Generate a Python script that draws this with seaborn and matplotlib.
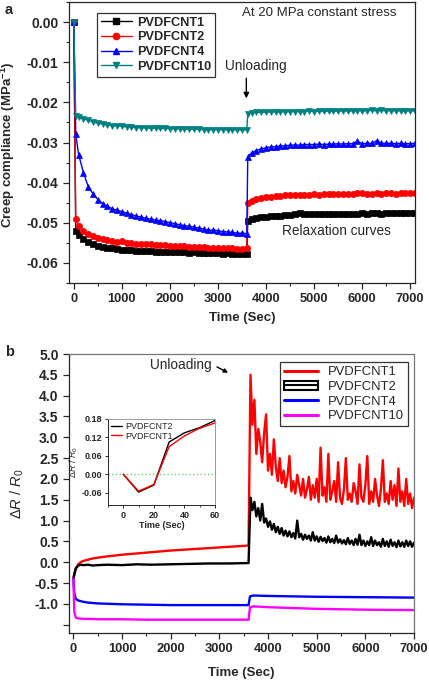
import seaborn as sns
import matplotlib.pyplot as plt
import matplotlib.patches as mpatches
from matplotlib.lines import Line2D
from matplotlib.ticker import MultipleLocator
import numpy as np
import pandas as pd

sns.set_style('ticks')
plt.rcParams['font.family'] = ['Liberation Sans', 'DejaVu Sans']
plt.rcParams['mathtext.fontset'] = 'custom'
plt.rcParams['mathtext.rm'] = 'Liberation Sans'
plt.rcParams['mathtext.it'] = 'Liberation Sans:italic'
plt.rcParams['mathtext.bf'] = 'Liberation Sans:bold'

# ---- panel a: creep compliance (MPa^-1) ----
t_load_a = [0, 40] + list(range(100, 3601, 100))
t_unload_a = [3620] + list(range(3700, 7201, 100))

cnt1_load = [0.0, -0.0520, -0.0530, -0.0540, -0.0548, -0.0553, -0.0557, -0.0560, -0.0562, -0.0564,
             -0.0566, -0.0567, -0.0568, -0.0569, -0.0570, -0.0570, -0.0571, -0.0571, -0.0572, -0.0572,
             -0.0572, -0.0573, -0.0574, -0.0573, -0.0574, -0.0575, -0.0574, -0.0575, -0.0576, -0.0575,
             -0.0576, -0.0576, -0.0577, -0.0576, -0.0577, -0.0577, -0.0578, -0.0577]
cnt1_unload = [-0.0495, -0.0490, -0.0488, -0.0486, -0.0485, -0.0484, -0.0483, -0.0482, -0.0481, -0.0480,
               -0.0479, -0.0476, -0.0479, -0.0479, -0.0478, -0.0478, -0.0478, -0.0478, -0.0477, -0.0478,
               -0.0477, -0.0477, -0.0477, -0.0477, -0.0476, -0.0477, -0.0476, -0.0476, -0.0477, -0.0476,
               -0.0476, -0.0475, -0.0476, -0.0475, -0.0476, -0.0475, -0.0476]

cnt2_load = [0.0, -0.0490, -0.0507, -0.0520, -0.0528, -0.0534, -0.0538, -0.0541, -0.0544, -0.0546,
             -0.0548, -0.0545, -0.0550, -0.0551, -0.0552, -0.0553, -0.0554, -0.0554, -0.0555, -0.0556,
             -0.0556, -0.0557, -0.0558, -0.0558, -0.0559, -0.0560, -0.0560, -0.0561, -0.0561, -0.0562,
             -0.0562, -0.0563, -0.0563, -0.0564, -0.0564, -0.0565, -0.0565, -0.0564]
cnt2_unload = [-0.0450, -0.0445, -0.0441, -0.0438, -0.0436, -0.0435, -0.0434, -0.0433, -0.0432, -0.0431,
               -0.0431, -0.0430, -0.0430, -0.0430, -0.0429, -0.0430, -0.0429, -0.0428, -0.0429, -0.0428,
               -0.0429, -0.0428, -0.0428, -0.0425, -0.0427, -0.0428, -0.0428, -0.0427, -0.0428, -0.0427,
               -0.0427, -0.0428, -0.0427, -0.0427, -0.0427, -0.0426, -0.0426]

cnt4_load = [0.0, -0.0280, -0.0330, -0.0375, -0.0410, -0.0428, -0.0442, -0.0452, -0.0459, -0.0465,
             -0.0469, -0.0472, -0.0476, -0.0480, -0.0483, -0.0486, -0.0489, -0.0491, -0.0493, -0.0495,
             -0.0497, -0.0500, -0.0502, -0.0505, -0.0507, -0.0509, -0.0511, -0.0513, -0.0515, -0.0519,
             -0.0518, -0.0520, -0.0522, -0.0523, -0.0524, -0.0526, -0.0526, -0.0527]
cnt4_unload = [-0.0335, -0.0326, -0.0320, -0.0316, -0.0313, -0.0311, -0.0310, -0.0309, -0.0308, -0.0307,
               -0.0306, -0.0307, -0.0305, -0.0305, -0.0305, -0.0304, -0.0305, -0.0304, -0.0304, -0.0303,
               -0.0304, -0.0303, -0.0303, -0.0297, -0.0303, -0.0302, -0.0302, -0.0296, -0.0302, -0.0302,
               -0.0302, -0.0303, -0.0302, -0.0303, -0.0303, -0.0302, -0.0303]

cnt10_load = [0.0, -0.0233, -0.0236, -0.0241, -0.0245, -0.0249, -0.0252, -0.0254, -0.0256, -0.0258,
              -0.0259, -0.0260, -0.0261, -0.0262, -0.0263, -0.0263, -0.0264, -0.0264, -0.0265, -0.0265,
              -0.0265, -0.0266, -0.0266, -0.0266, -0.0267, -0.0267, -0.0267, -0.0267, -0.0268, -0.0268,
              -0.0268, -0.0268, -0.0268, -0.0268, -0.0269, -0.0268, -0.0269, -0.0268]
cnt10_unload = [-0.0228, -0.0226, -0.0225, -0.0225, -0.0224, -0.0224, -0.0224, -0.0223, -0.0224, -0.0223,
                -0.0223, -0.0223, -0.0223, -0.0222, -0.0223, -0.0222, -0.0222, -0.0222, -0.0222, -0.0222,
                -0.0221, -0.0222, -0.0221, -0.0221, -0.0221, -0.0221, -0.0220, -0.0221, -0.0220, -0.0221,
                -0.0221, -0.0221, -0.0221, -0.0222, -0.0221, -0.0221, -0.0222]

# ---- panel b: resistance change ----
t_load_b = [0, 20, 50, 100, 150, 200, 300, 400, 500, 700, 1000, 1300, 1600, 2000, 2400, 2800, 3200, 3600]
r1_load = [-0.40, -0.30, -0.15, -0.05, 0.00, 0.03, 0.06, 0.09, 0.11, 0.14, 0.18, 0.21, 0.24, 0.28,
           0.31, 0.34, 0.37, 0.40]
r2_load = [-0.40, -0.28, -0.15, -0.08, -0.06, -0.07, -0.06, -0.08, -0.07, -0.06, -0.07, -0.05, -0.06,
           -0.05, -0.04, -0.03, -0.03, -0.02]
t_unload_b0 = 3640
t_unload_step = 40
r1_unload = [4.50, 3.30, 3.90, 2.60, 3.20, 2.90, 2.40, 3.10, 3.55, 2.20, 2.60, 2.10, 2.95, 2.30, 1.95,
             2.50, 1.90, 2.20, 1.80, 2.05, 2.55, 1.70, 1.95, 1.65, 2.10, 1.85, 1.60, 2.00, 1.55, 1.75,
             2.05, 1.50, 1.85, 1.55, 2.00, 1.45, 2.75, 1.60, 1.80, 1.45, 2.60, 1.50, 1.70, 1.95, 1.45,
             2.40, 1.55, 1.40, 1.75, 2.50, 1.50, 1.65, 1.45, 1.90, 1.70, 1.40, 2.35, 1.55, 1.45, 1.85,
             2.55, 1.40, 1.70, 1.45, 2.00, 1.60, 1.35, 1.75, 2.45, 1.45, 1.65, 1.40, 1.95, 1.50, 1.85,
             1.35, 2.25, 1.45, 1.70, 1.35, 2.00, 1.40, 1.65, 1.30, 1.55]
r2_unload = [1.55, 1.25, 1.45, 1.10, 1.30, 1.00, 1.40, 0.95, 1.05, 0.85, 0.98, 0.78, 0.92, 0.72, 0.85,
             0.68, 0.82, 0.64, 0.76, 0.62, 0.74, 0.60, 0.70, 0.57, 1.00, 0.60, 0.68, 0.54, 0.66, 0.56,
             0.64, 0.52, 0.72, 0.52, 0.62, 0.49, 0.61, 0.51, 0.58, 0.47, 0.62, 0.48, 0.56, 0.46, 0.64,
             0.47, 0.55, 0.45, 0.53, 0.43, 0.58, 0.44, 0.52, 0.41, 0.56, 0.42, 0.66, 0.41, 0.52, 0.39,
             0.50, 0.41, 0.60, 0.39, 0.52, 0.41, 0.48, 0.37, 0.56, 0.39, 0.50, 0.37, 0.54, 0.39, 0.48,
             0.36, 0.52, 0.38, 0.48, 0.37, 0.52, 0.39, 0.50, 0.37, 0.47]
t_b_smooth = [0, 20, 50, 100, 200, 300, 500, 1000, 1500, 2000, 2500, 3000, 3600, 3630, 3700, 4000,
              5000, 6000, 7000]
r4_vals = [-0.40, -0.75, -0.88, -0.92, -0.95, -0.97, -0.99, -1.01, -1.02, -1.03, -1.03, -1.03, -1.03,
           -0.82, -0.80, -0.81, -0.83, -0.84, -0.85]
r10_vals = [-0.40, -1.20, -1.33, -1.35, -1.36, -1.36, -1.37, -1.37, -1.38, -1.38, -1.38, -1.38, -1.38,
            -1.08, -1.06, -1.08, -1.12, -1.14, -1.15]

# inset: first 60 s
t_inset = [0, 10, 20, 30, 40, 50, 60]
inset_cnt2 = [0.0, -0.058, -0.035, 0.105, 0.135, 0.152, 0.175]
inset_cnt1 = [0.0, -0.055, -0.033, 0.090, 0.125, 0.150, 0.167]

names = ['PVDFCNT1', 'PVDFCNT2', 'PVDFCNT4', 'PVDFCNT10']
colors_a = ['black', '#ff0000', '#0000ff', '#008080']
markers_a = ['s', 'o', '^', 'v']
colors_b = ['#ff0000', 'black', '#0000ff', '#ff00ff']

fig = plt.figure(figsize=(4.29, 6.8), dpi=100)
ax1 = fig.add_axes([69/429, 1-283/680, 346/429, 281/680])
ax2 = fig.add_axes([69/429, 1-633/680, 345/429, 279/680])

# ---------------- panel a ----------------
rows = []
for name, load, unload in zip(names, [cnt1_load, cnt2_load, cnt4_load, cnt10_load],
                              [cnt1_unload, cnt2_unload, cnt4_unload, cnt10_unload]):
    for t, v in zip(t_load_a + t_unload_a, load + unload):
        rows.append((name, t, v))
df_a = pd.DataFrame(rows, columns=['sample', 'time', 'value'])

for name, c, m in zip(names, colors_a, markers_a):
    sns.lineplot(data=df_a[df_a['sample'] == name], x='time', y='value', color=c, marker=m,
                 markersize=4.5, markeredgecolor=c, markeredgewidth=0.5, linewidth=1,
                 estimator=None, sort=False, ax=ax1, legend=False)

ax1.set_xlim(-100, 7100)
ax1.set_ylim(-0.065, 0.005)
ax1.set_yticks(np.arange(-0.06, 0.001, 0.01))
ax1.set_yticklabels([f'{v:.2f}' for v in np.arange(-0.06, 0.001, 0.01)])
ax1.yaxis.set_minor_locator(MultipleLocator(0.005))
ax1.set_xticks(range(0, 7001, 1000))
ax1.xaxis.set_minor_locator(MultipleLocator(500))
ax1.set_xlabel('Time (Sec)', fontsize=9.5, fontweight='bold', labelpad=5)
ax1.set_ylabel('Creep compliance (MPa$^{\\mathbf{-1}}$)', fontsize=9.5, fontweight='bold')
ax1.yaxis.set_label_coords(-0.150, 0.49)

handles_a = [Line2D([], [], color=c, marker=m, markersize=4.5, lw=1) for c, m in zip(colors_a, markers_a)]
ax1.legend(handles_a, names, loc='upper left', bbox_to_anchor=(0.081, 0.962),
           prop={'weight': 'bold', 'size': 9.2}, frameon=True, fancybox=False, edgecolor='black',
           borderpad=0.3, labelspacing=0.22, handlelength=2.4, handletextpad=0.4, borderaxespad=0)
ax1.get_legend().get_frame().set_linewidth(0.9)

ax1.text(5104, 0.0022, 'At 20 MPa constant stress', fontsize=9.5, ha='center', va='center')
ax1.text(3780, -0.0110, 'Unloading', fontsize=9.8, ha='center', va='center')
ax1.annotate('', xy=(3590, -0.0197), xytext=(3590, -0.0133),
             arrowprops=dict(arrowstyle='-|>', color='black', lw=1, mutation_scale=8))
ax1.text(5460, -0.0521, 'Relaxation curves', fontsize=9.8, ha='center', va='center')

# ---------------- panel b ----------------
t_unload_b = list(t_unload_b0 + t_unload_step * np.arange(len(r1_unload)))
df_b = pd.concat([
    pd.DataFrame({'sample': 'PVDFCNT1', 'time': t_load_b + t_unload_b, 'value': r1_load + r1_unload}),
    pd.DataFrame({'sample': 'PVDFCNT2', 'time': t_load_b + t_unload_b, 'value': r2_load + r2_unload}),
    pd.DataFrame({'sample': 'PVDFCNT4', 'time': t_b_smooth, 'value': r4_vals}),
    pd.DataFrame({'sample': 'PVDFCNT10', 'time': t_b_smooth, 'value': r10_vals}),
])

for name, c in zip(names, colors_b):
    sns.lineplot(data=df_b[df_b['sample'] == name], x='time', y='value', color=c, linewidth=1.7,
                 estimator=None, sort=False, ax=ax2, legend=False)

ax2.set_xlim(-90, 7000)
ax2.set_ylim(-1.7, 5.0)
yt = np.arange(-1.5, 5.01, 0.5)
ax2.set_yticks(yt)
ax2.set_yticklabels(['' if abs(v + 1.5) < 1e-6 else f'{v:.1f}' for v in yt])
ax2.set_xticks(range(0, 7001, 1000))
ax2.xaxis.set_minor_locator(MultipleLocator(500))
ax2.set_xlabel('Time (Sec)', fontsize=9.5, fontweight='bold', labelpad=8)
ax2.set_ylabel(r'$\Delta R\ /\ R_0$', fontsize=10.5)
ax2.yaxis.set_label_coords(-0.125, 0.5)

handles_b = [Line2D([], [], color=colors_b[0], lw=2.2),
             (mpatches.Patch(facecolor='white', edgecolor='black', lw=1.5),
              Line2D([], [], color='black', lw=1.5)),
             Line2D([], [], color=colors_b[2], lw=2.2),
             Line2D([], [], color=colors_b[3], lw=2.2)]
ax2.legend(handles_b, names, loc='upper right', bbox_to_anchor=(0.983, 0.971),
           prop={'size': 9.4}, frameon=True, fancybox=False, edgecolor='black',
           borderpad=0.3, labelspacing=0.2, handlelength=2.6, handletextpad=0.8, borderaxespad=0)
ax2.get_legend().get_frame().set_linewidth(0.9)

ax2.text(2200, 4.74, 'Unloading', fontsize=9.8, ha='center', va='center')
ax2.annotate('', xy=(3180, 4.55), xytext=(2950, 4.69),
             arrowprops=dict(arrowstyle='-|>', color='black', lw=1, mutation_scale=6,
                             shrinkA=0, shrinkB=0))
for sp in ['top', 'right']:
    ax2.spines[sp].set_color('#777777')

for ax in (ax1, ax2):
    ax.tick_params(which='major', direction='out', length=4, width=0.9, labelsize=9.3)
    ax.tick_params(which='minor', direction='out', length=2.5, width=0.8)
    ax.tick_params(axis='y', labelsize=10)
    for lab in ax.get_xticklabels() + ax.get_yticklabels():
        lab.set_fontweight('bold')
    for sp in ax.spines.values():
        sp.set_linewidth(0.9)

# ---------------- inset ----------------
axin = fig.add_axes([108/429, 1-505/680, 107/429, 86/680])
df_in = pd.DataFrame({'time': t_inset * 2,
                      'value': inset_cnt2 + inset_cnt1,
                      'sample': ['PVDFCNT2'] * 7 + ['PVDFCNT1'] * 7})
sns.lineplot(data=df_in, x='time', y='value', hue='sample', palette=['black', '#ff0000'],
             linewidth=1, estimator=None, sort=False, ax=axin)
axin.axhline(0, color='#77cc77', ls=':', lw=1, zorder=0)
axin.set_xlim(-10, 60)
axin.set_ylim(-0.10, 0.18)
axin.set_xticks([0, 20, 40, 60])
axin.xaxis.set_minor_locator(MultipleLocator(10))
axin.set_yticks([-0.06, 0.0, 0.06, 0.12, 0.18])
axin.set_yticklabels(['-0.06', '0.00', '0.06', '0.12', '0.18'])
axin.tick_params(which='major', direction='out', length=2.5, width=0.7, labelsize=6.5, pad=1.5)
axin.tick_params(which='minor', direction='out', length=1.5, width=0.6)
for lab in axin.get_xticklabels() + axin.get_yticklabels():
    lab.set_fontweight('bold')
axin.set_xlabel('Time (Sec)', fontsize=6.5, fontweight='bold', labelpad=1)
axin.set_ylabel(r'$\Delta R\ /\ R_0$', fontsize=6.5, labelpad=1)
for sp in axin.spines.values():
    sp.set_linewidth(0.7)
axin.spines['top'].set_color('#999999')
axin.spines['right'].set_color('#999999')
axin.legend(loc='upper left', frameon=False, fontsize=6.5, handlelength=1.3, handletextpad=0.3,
            labelspacing=0.1, borderaxespad=0.2, borderpad=0.1, title=None)

fig.text(5/429, 1-10/680, 'a', fontsize=10.5, fontweight='bold', va='center')
fig.text(5/429, 1-352/680, 'b', fontsize=10.5, fontweight='bold', va='center')

fig.savefig('out.png', dpi=100)
